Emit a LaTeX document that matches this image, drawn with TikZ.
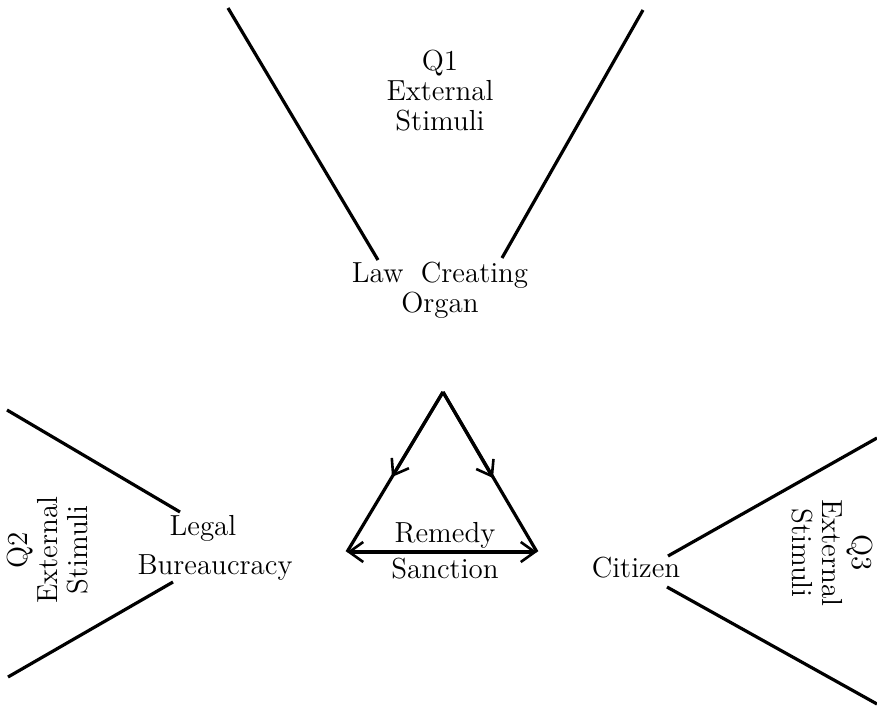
\documentclass[tikz,border=0pt]{standalone}
\usetikzlibrary{arrows.meta}
\begin{document}
\begin{tikzpicture}[x=0.5pt,y=-0.5pt,>={Straight Barb[length=7pt,width=10pt,line width=1.3pt]},line width=1.6pt,
  lbl/.style={font=\fontsize{14.5}{15}\selectfont,align=center,inner sep=1pt}]
\useasboundingbox (0,0) rectangle (877,707);
% funnel lines
\coordinate (t1) at (228,8);  \coordinate (t2) at (378,260);
\coordinate (t3) at (643,10); \coordinate (t4) at (502,258);
\coordinate (l1) at (7,410);  \coordinate (l2) at (180,512);
\coordinate (l3) at (173,582);\coordinate (l4) at (8,677);
\coordinate (r1) at (877,438);\coordinate (r2) at (668,556);
\coordinate (r3) at (667,587);\coordinate (r4) at (877,704);
\draw (t1)--(t2);
\draw (t3)--(t4);
\draw (l1)--(l2);
\draw (l3)--(l4);
\draw (r1)--(r2);
\draw (r3)--(r4);
% labels
\node[lbl] (q1) at (440,91) {Q1\\External\\Stimuli};
\node[lbl] (law) at (440,290) {Law\hspace{0.6em}Creating\\Organ};
\node[lbl,rotate=90] (q2) at (48,550) {Q2\\External\\Stimuli};
\node[lbl,rotate=-90] (q3) at (832,553) {Q3\\External\\Stimuli};
\node[lbl] (legal) at (203,528) {Legal};
\node[lbl] (bureau) at (215,568) {Bureaucracy};
\node[lbl] (citizen) at (636,568) {Citizen};
\node[lbl] (remedy) at (445,535) {Remedy};
\node[lbl] (sanction) at (445,569) {Sanction};
% triangle
\coordinate (top) at (443,392);
\coordinate (bl) at (347,552);
\coordinate (br) at (537,552);
\coordinate (ml) at (392,477);
\coordinate (mr) at (493,478);
\draw (top)--(bl);
\draw (top)--(br);
\draw[->] (top)--(ml);
\draw[->] (top)--(mr);
\draw[<->] (bl)--(br);
\end{tikzpicture}
\end{document}
